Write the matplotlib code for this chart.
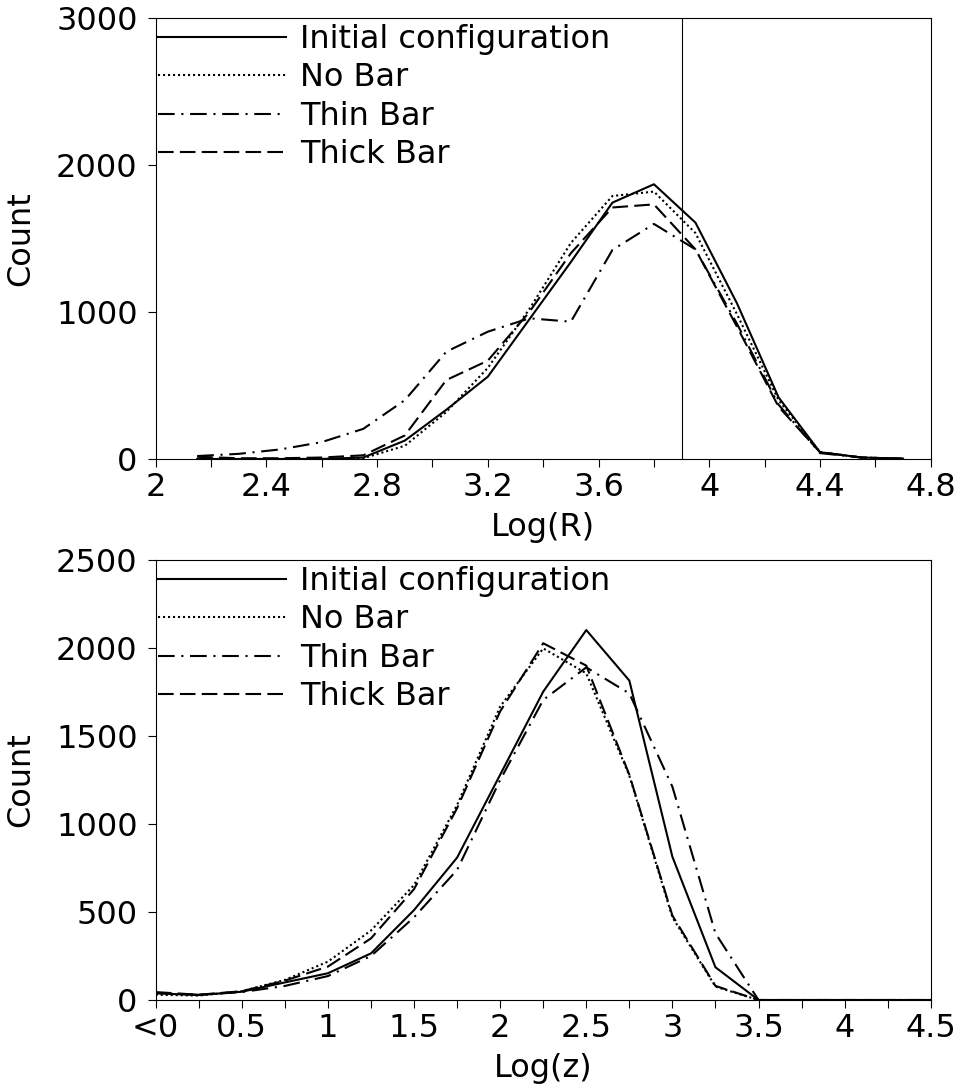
import numpy as np
import matplotlib
matplotlib.use("Agg")
import matplotlib.pyplot as plt

plt.rcParams['font.family'] = ['DejaVu Sans']
plt.rcParams['font.size'] = 23

# --- Log(R) distribution ---
logr = [2.15, 2.3, 2.45, 2.6, 2.75, 2.9, 3.05, 3.2, 3.35, 3.5, 3.65, 3.8, 3.95, 4.1, 4.25, 4.4, 4.55, 4.7]
r_initial = [0, 0, 0, 0, 10, 125, 335, 560, 950, 1340, 1744, 1869, 1608, 1059, 420, 46, 10, 2]
r_nobar = [0, 0, 0, 0, 5, 90, 320, 620, 1020, 1470, 1789, 1819, 1537, 985, 401, 46, 10, 2]
r_thin = [20, 35, 65, 115, 205, 400, 730, 866, 957, 934, 1422, 1599, 1426, 920, 370, 40, 10, 2]
r_thick = [15, 5, 5, 10, 25, 160, 537, 669, 1000, 1400, 1711, 1732, 1426, 900, 356, 46, 10, 2]
r_cut = 3.9

# --- Log(z) distribution ---
logz = [0, 0.25, 0.5, 0.75, 1.0, 1.25, 1.5, 1.75, 2.0, 2.25, 2.5, 2.75, 3.0, 3.25, 3.5, 3.75, 4.0, 4.25, 4.5]
z_initial = [38, 28, 47, 100, 152, 265, 511, 809, 1280, 1752, 2102, 1815, 814, 186, 0, 0, 0, 0, 0]
z_nobar = [30, 25, 50, 114, 218, 395, 653, 1108, 1667, 1998, 1856, 1275, 470, 76, 0, 0, 0, 0, 0]
z_thin = [40, 30, 45, 80, 136, 250, 470, 739, 1250, 1705, 1890, 1742, 1212, 379, 0, 0, 0, 0, 0]
z_thick = [45, 30, 50, 110, 190, 350, 630, 1090, 1640, 2027, 1900, 1280, 480, 80, 0, 0, 0, 0, 0]

labels = ["Initial configuration", "No Bar", "Thin Bar", "Thick Bar"]
styles = ['-', (0, (1, 1.4)), (0, (8, 3.2, 1, 3.2)), (0, (7.5, 3))]

fig = plt.figure(figsize=(9.67, 10.91), dpi=100)
ax1 = fig.add_axes([0.161, 0.5793, 0.8015, 0.4042])
ax2 = fig.add_axes([0.161, 0.0834, 0.8015, 0.4033])

for y, ls, lab in zip([r_initial, r_nobar, r_thin, r_thick], styles, labels):
    ax1.plot(logr, y, color='black', linestyle=ls, linewidth=1.5, label=lab)
ax1.axvline(r_cut, color='black', linewidth=0.8)
ax1.set_xlim(2, 4.8)
ax1.set_ylim(0, 3000)
xt = np.arange(2, 4.81, 0.2)
ax1.set_xticks(xt)
ax1.set_xticklabels([('%g' % round(v, 1)) if i % 2 == 0 else '' for i, v in enumerate(xt)])
ax1.set_yticks([0, 1000, 2000, 3000])
ax1.set_xlabel("Log(R)", labelpad=6)
ax1.set_ylabel("Count", labelpad=14)

for y, ls, lab in zip([z_initial, z_nobar, z_thin, z_thick], styles, labels):
    ax2.plot(logz, y, color='black', linestyle=ls, linewidth=1.5, label=lab)
ax2.set_xlim(0, 4.5)
ax2.set_ylim(0, 2500)
xt = np.arange(0, 4.51, 0.25)
zlabels = []
for i, v in enumerate(xt):
    if i == 0:
        zlabels.append('<0')
    elif i % 2 == 0:
        zlabels.append('%g' % v)
    else:
        zlabels.append('')
ax2.set_xticks(xt)
ax2.set_xticklabels(zlabels)
ax2.set_yticks([0, 500, 1000, 1500, 2000, 2500])
ax2.set_xlabel("Log(z)", labelpad=6)
ax2.set_ylabel("Count", labelpad=14)

for ax in [ax1, ax2]:
    ax.tick_params(axis='both', length=6, width=0.8)
    ax.tick_params(axis='y', pad=7)
    ax.legend(loc='upper left', bbox_to_anchor=(0, 0.992), frameon=False,
              borderaxespad=0, borderpad=0.08,
              handlelength=4.0, handletextpad=0.45, labelspacing=0.23)

plt.savefig("out.png", dpi=100)
